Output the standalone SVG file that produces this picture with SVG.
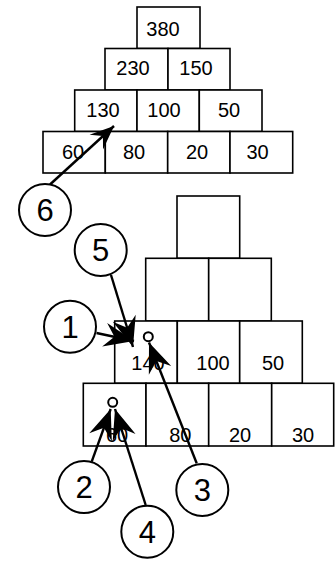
<svg xmlns="http://www.w3.org/2000/svg" width="336" height="561" viewBox="0 0 336 561">
<style>
.box{fill:#fff;stroke:#000;stroke-width:1.6}
.circ{fill:#fff;stroke:#000;stroke-width:2}
.dot{fill:#fff;stroke:#000;stroke-width:2}
.t{font-family:"Liberation Sans",Arial,sans-serif;font-size:20px;fill:#000;text-anchor:middle}
.n{font-family:"Liberation Sans",Arial,sans-serif;font-size:31px;fill:#000;text-anchor:middle}
.ln{fill:none;stroke:#000;stroke-width:2.4}
.big{marker-end:url(#headBig)}
.small{marker-end:url(#headSmall)}
</style>
<defs>
<marker id="headBig" markerUnits="userSpaceOnUse" viewBox="-32 -13 34 26" markerWidth="34" markerHeight="26" refX="0" refY="0" orient="auto" overflow="visible">
<path d="M0,0 L-30,-12 L-20,0 L-30,12 Z" fill="#000"/>
</marker>
<marker id="headSmall" markerUnits="userSpaceOnUse" viewBox="-26 -11 28 22" markerWidth="28" markerHeight="22" refX="0" refY="0" orient="auto" overflow="visible">
<path d="M0,0 L-24,-10 L-15,0 L-24,10 Z" fill="#000"/>
</marker>
</defs>

<g id="top-pyramid">
<g id="t380"><rect class="box" x="137" y="7" width="63" height="41.5"/><text class="t" x="163" y="35.5">380</text></g>
<g id="t230"><rect class="box" x="105" y="48.5" width="63" height="41.5"/><text class="t" x="133" y="74.5">230</text></g>
<g id="t150"><rect class="box" x="168" y="48.5" width="62" height="41.5"/><text class="t" x="196" y="74.5">150</text></g>
<g id="t130"><rect class="box" x="74.7" y="90" width="62.3" height="41.5"/><text class="t" x="103" y="117">130</text></g>
<g id="t100"><rect class="box" x="137" y="90" width="62.3" height="41.5"/><text class="t" x="164" y="117">100</text></g>
<g id="t50"><rect class="box" x="199.3" y="90" width="62.7" height="41.5"/><text class="t" x="229" y="117">50</text></g>
<g id="t60"><rect class="box" x="43" y="131.5" width="62.3" height="41.5"/><text class="t" x="73" y="159">60</text></g>
<g id="t80"><rect class="box" x="105.3" y="131.5" width="62.4" height="41.5"/><text class="t" x="134" y="159">80</text></g>
<g id="t20"><rect class="box" x="167.7" y="131.5" width="62.3" height="41.5"/><text class="t" x="197" y="159">20</text></g>
<g id="t30"><rect class="box" x="230" y="131.5" width="62.7" height="41.5"/><text class="t" x="257.5" y="159">30</text></g>
</g>

<g id="bottom-pyramid">
<g id="b-top"><rect class="box" x="177" y="196" width="62.7" height="62.3"/></g>
<g id="b-r2a"><rect class="box" x="145.7" y="258.3" width="63" height="62.7"/></g>
<g id="b-r2b"><rect class="box" x="208.7" y="258.3" width="62.6" height="62.7"/></g>
<g id="b140"><rect class="box" x="114.7" y="321" width="62.6" height="62.3"/><text class="t" x="148" y="370">140</text><circle class="dot" cx="148.3" cy="336.7" r="4.5"/></g>
<g id="b100"><rect class="box" x="177.3" y="321" width="62.4" height="62.3"/><text class="t" x="213" y="370">100</text></g>
<g id="b50"><rect class="box" x="239.7" y="321" width="62.6" height="62.3"/><text class="t" x="273" y="370">50</text></g>
<g id="b60"><rect class="box" x="83.3" y="383.3" width="62.7" height="62.7"/><text class="t" x="117" y="441.7">60</text><circle class="dot" cx="112.7" cy="402.3" r="4.5"/></g>
<g id="b80"><rect class="box" x="146" y="383.3" width="62.7" height="62.7"/><text class="t" x="180.3" y="441.7">80</text></g>
<g id="b20"><rect class="box" x="208.7" y="383.3" width="63" height="62.7"/><text class="t" x="240" y="441.7">20</text></g>
<g id="b30"><rect class="box" x="271.7" y="383.3" width="62" height="62.7"/><text class="t" x="303" y="441.7">30</text></g>
</g>

<g id="connectors">
<line class="ln small" x1="50" y1="184.5" x2="114" y2="126"/>
<line class="ln big" x1="111" y1="275" x2="133" y2="347"/>
<line class="ln big" x1="96.5" y1="333" x2="134" y2="341"/>
<line class="ln big" x1="196.7" y1="463.3" x2="149" y2="342.5"/>
<line class="ln big" x1="91.7" y1="461.7" x2="110.7" y2="409"/>
<line class="ln big" x1="145.7" y1="505" x2="115" y2="409"/>
</g>

<g id="c6"><circle class="circ" cx="45" cy="210" r="26"/><text class="n" x="45" y="221">6</text></g>
<g id="c5"><circle class="circ" cx="100.7" cy="250" r="26"/><text class="n" x="100.7" y="261">5</text></g>
<g id="c1"><circle class="circ" cx="70" cy="326.7" r="26"/><text class="n" x="70" y="337.7">1</text></g>
<g id="c2"><circle class="circ" cx="84" cy="487" r="26"/><text class="n" x="84" y="498">2</text></g>
<g id="c4"><circle class="circ" cx="147.3" cy="531.7" r="26"/><text class="n" x="147.3" y="542.7">4</text></g>
<g id="c3"><circle class="circ" cx="202.3" cy="490" r="26"/><text class="n" x="202.3" y="501">3</text></g>
</svg>
